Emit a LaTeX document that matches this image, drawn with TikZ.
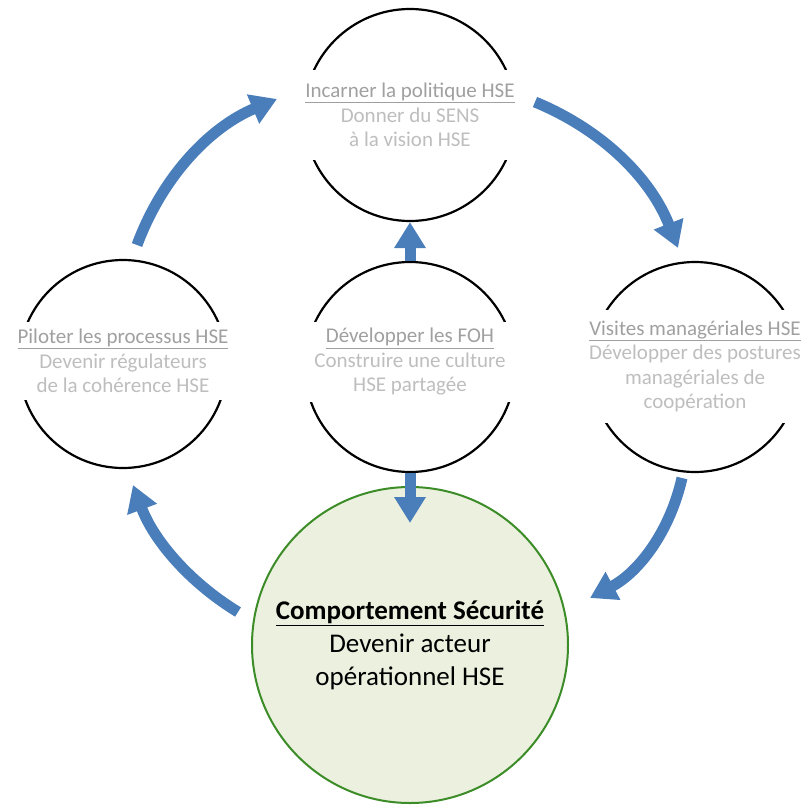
\documentclass[tikz,border=0pt]{standalone}
\usepackage{fontspec}
\setmainfont{Carlito}
\usetikzlibrary{arrows.meta}
\definecolor{flowblue}{RGB}{74,126,187}
\definecolor{titlegray}{RGB}{160,160,160}
\definecolor{bodygray}{RGB}{190,190,190}
\definecolor{ringgreen}{RGB}{60,140,40}
\definecolor{ringfill}{RGB}{235,241,222}
\newcommand{\steptitle}[1]{\textcolor{titlegray}{\underline{#1}}}

\begin{document}
\begin{tikzpicture}[x=1pt,y=-1pt]
  \tikzstyle{ring}=[circle,draw=black,line width=2.2pt,inner sep=0pt]
  \tikzstyle{ringtext}=[fill=white,inner sep=0pt,align=center,text=bodygray,font=\fontsize{21}{24.5}\selectfont]
  \tikzstyle{flow}=[draw=flowblue,line width=11pt,-{Triangle[width=30pt,length=26pt]}]
  \useasboundingbox (0,0) rectangle (802,805);
  % the four steps
  \node[ring,minimum size=212pt] (incarner) at (410,115) {};
  \node[ring,minimum size=208pt] (piloter) at (123,364) {};
  \node[ring,minimum size=210pt] (foh) at (410,367) {};
  \node[ring,minimum size=210pt] (visites) at (695,367) {};
  \node[ringtext,minimum width=220pt,minimum height=90pt] (incarner-txt) at (410,115)
    {\steptitle{Incarner la politique HSE}\\Donner du SENS\\à la vision HSE};
  \node[ringtext,minimum width=216pt,minimum height=78pt] (piloter-txt) at (123,361)
    {\steptitle{Piloter les processus HSE}\\Devenir régulateurs\\de la cohérence HSE};
  \node[ringtext,minimum width=218pt,minimum height=80pt] (foh-txt) at (410,362)
    {\steptitle{Développer les FOH}\\Construire une culture\\HSE partagée};
  \node[ringtext,minimum width=218pt,minimum height=113pt] (visites-txt) at (695,366.5)
    {\steptitle{Visites managériales HSE}\\Développer des postures\\managériales de\\coopération};
  % the goal
  \node[circle,draw=ringgreen,fill=ringfill,line width=2pt,minimum size=316pt,align=center,
        font=\fontsize{27}{33}\selectfont] (securite) at (410,645)
    {\textbf{\underline{Comportement Sécurité}}\\Devenir acteur\\opérationnel HSE};
  % arrow ends
  \coordinate (lt-s) at (137,245);
  \coordinate (lt-e) at (277,99);
  \coordinate (rt-s) at (535,102);
  \coordinate (rt-e) at (678,248);
  \coordinate (rb-s) at (682,478);
  \coordinate (rb-e) at (590,598);
  \coordinate (lb-s) at (238,612);
  \coordinate (lb-e) at (133,485);
  % the cycle
  \draw[flow] (foh.north) -- (incarner.south);
  \draw[flow] (foh.south) -- ([yshift=-37pt]securite.north);
  \draw[flow] (lt-s) .. controls (162.5,176.5) and (209.7,127.3) .. (lt-e);
  \draw[flow] (rt-s) .. controls (603.5,130.4) and (651.1,179) .. (rt-e);
  \draw[flow] (rb-s) .. controls (669.8,531.8) and (638.8,572.2) .. (rb-e);
  \draw[flow] (lb-s) .. controls (188.4,581.7) and (153.4,539.5) .. (lb-e);
\end{tikzpicture}
\end{document}
